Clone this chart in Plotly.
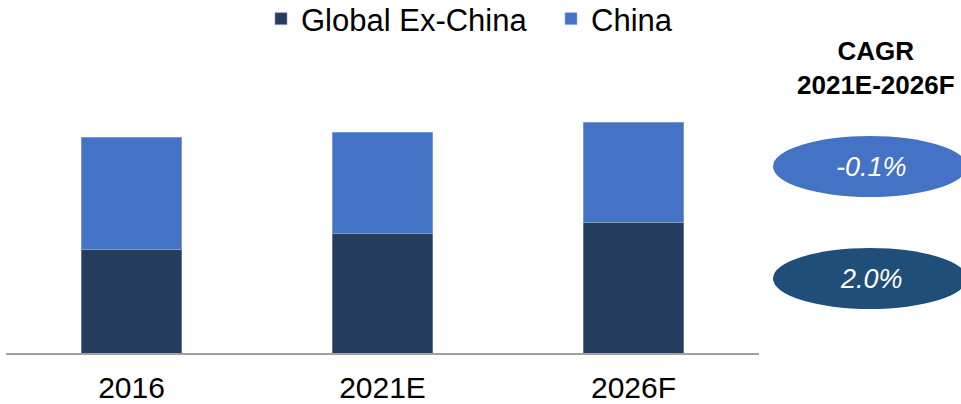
import plotly.graph_objects as go

categories = ["2016", "2021E", "2026F"]
global_ex_china = [104, 120, 131]
china = [112, 101, 100]
cagr_labels = ["-0.1%", "2.0%"]

C_GLOBAL = "#243D5E"
C_CHINA = "#4472C4"
C_ELL2 = "#1F4E79"

fig = go.Figure()
fig.add_trace(go.Bar(x=categories, y=global_ex_china, name="Global Ex-China",
                     marker=dict(color=C_GLOBAL, line=dict(color="#8A9BB5", width=0.6))))
fig.add_trace(go.Bar(x=categories, y=china, name="China",
                     marker=dict(color=C_CHINA, line=dict(color="#9DB4E0", width=0.6))))

L, R = 6, 759
W = R - L
def px(x):
    return (x - L) / W
PT, PB = 100, 353
H = PB - PT
def py(y):
    return (PB - y) / H

fig.update_layout(
    width=961, height=404,
    margin=dict(l=L, r=961 - R, t=PT, b=404 - PB, autoexpand=False),
    barmode="stack", bargap=0.6,
    plot_bgcolor="white", paper_bgcolor="white",
    font=dict(family="Liberation Sans, Arial, sans-serif", color="black"),
    showlegend=True,
    legend=dict(orientation="h", x=px(261), xanchor="left", y=py(-8), yanchor="top",
                font=dict(size=31), traceorder="normal", itemwidth=30,
                entrywidth=245, bgcolor="rgba(0,0,0,0)"),
    xaxis=dict(showgrid=False, showline=True, linecolor="#A0A0A0", linewidth=2,
               ticks="", tickfont=dict(size=30), ticklabelstandoff=7,
               range=[-0.5, 2.5], fixedrange=True),
    yaxis=dict(visible=False, range=[0, H], fixedrange=True),
)

# CAGR header
fig.add_annotation(xref="paper", yref="paper", x=px(876), y=py(68), text="<b>CAGR<br>2021E-2026F</b>",
                   showarrow=False, font=dict(size=26, color="black"), align="center",
                   xanchor="center", yanchor="middle")

ellipses = [(166.5, C_CHINA), (278.5, C_ELL2)]
for (cy, col), lab in zip(ellipses, cagr_labels):
    fig.add_shape(type="circle", xref="paper", yref="paper",
                  x0=px(773), x1=px(967), y0=py(cy - 30.5), y1=py(cy + 30.5),
                  fillcolor=col, line=dict(width=0), layer="above")
    fig.add_annotation(xref="paper", yref="paper", x=px(871), y=py(cy), text="<i>%s</i>" % lab,
                       showarrow=False, font=dict(size=27, color="white"),
                       xanchor="center", yanchor="middle")

fig.write_html("out.html", config={"displayModeBar": False},
               post_script="document.body.style.margin='0';document.body.style.padding='0';")
